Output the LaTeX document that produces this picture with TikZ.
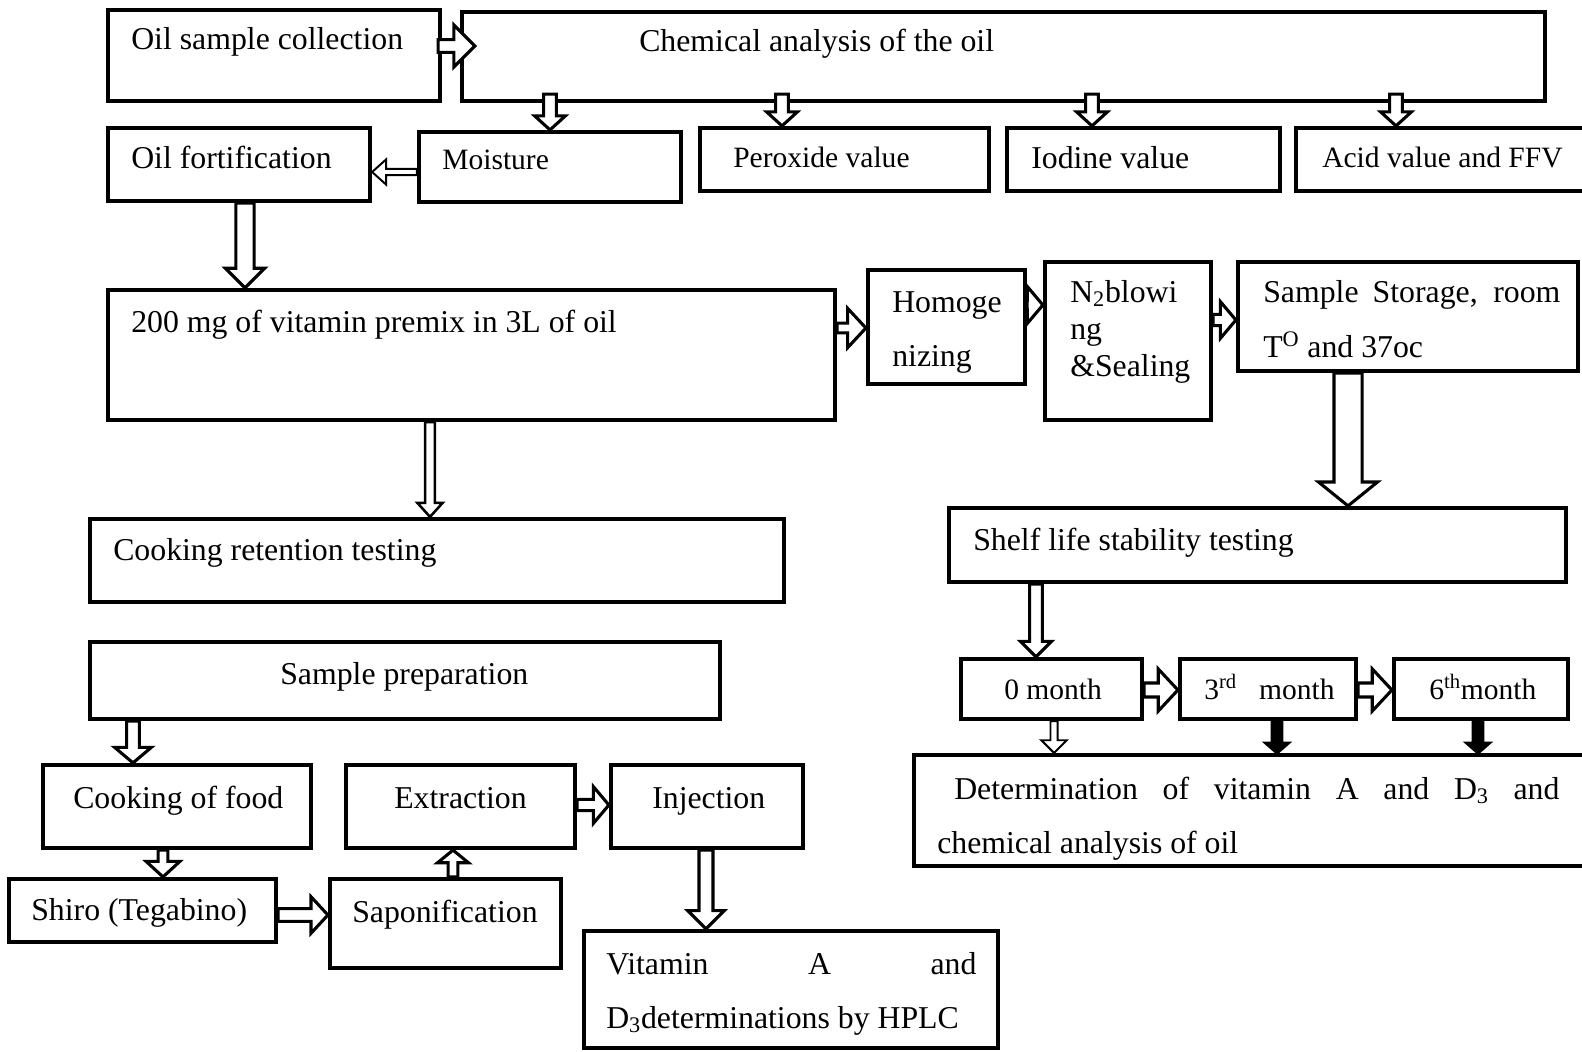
\documentclass[tikz,border=0pt]{standalone}
\usepackage{fontspec}
\setmainfont{Liberation Serif}
\usetikzlibrary{calc,fit}

\tikzset{
  box/.style={draw, line width=3pt, inner sep=0pt},
  txt/.style={anchor=base west, inner sep=0pt, font=\fontsize{22.6}{27}\selectfont},
  smalltxt/.style={txt, font=\fontsize{21}{25}\selectfont},
  arrowline/.style={draw, line width=2.2pt, fill=white, line join=miter},
  thinarrow/.style={line width=1.4pt},
  solidarrow/.style={fill=black}
}

% hollow block arrow: [options]{from}{to}{half shaft}{half head}{head length}
\newcommand{\flowarrow}[6][]{%
  \coordinate (fa-a) at (#2);
  \coordinate (fa-b) at (#3);
  \coordinate (fa-c) at ($(fa-b)!#6!(fa-a)$);
  \draw[arrowline,#1] ($(fa-a)!#4!90:(fa-b)$) -- ($(fa-c)!#4!-90:(fa-a)$)
    -- ($(fa-c)!#5!-90:(fa-a)$) -- (fa-b) -- ($(fa-c)!#5!90:(fa-a)$)
    -- ($(fa-c)!#4!90:(fa-a)$) -- ($(fa-a)!#4!-90:(fa-b)$) -- cycle;
}

\begin{document}
\begin{tikzpicture}[x=0.025cm, y=-0.025cm]
\useasboundingbox (0,0) rectangle (1582,1051);
\clip (0,0) rectangle (1582,1051);

% boxes
\node[box, fit={(108,10) (440,101)}] (oil) {};
\node[box, fit={(462,12) (1545,101)}] (chem) {};
\node[box, fit={(108,128) (370,201)}] (fort) {};
\node[box, fit={(419,132) (681,202)}] (moist) {};
\node[box, fit={(700,128) (989,191)}] (perox) {};
\node[box, fit={(1007,128) (1280,191)}] (iodine) {};
\node[box, fit={(1296,128) (1600,191)}] (acid) {};
\node[box, fit={(108,290) (835,420)}] (premix) {};
\node[box, fit={(868,270) (1025,384)}] (homog) {};
\node[box, fit={(1045,262) (1211,420)}] (seal) {};
\node[box, fit={(1238,262) (1578,371)}] (storage) {};
\node[box, fit={(90,519) (784,602)}] (cookret) {};
\node[box, fit={(949,508) (1566,582)}] (shelf) {};
\node[box, fit={(90,642) (720,719)}] (prep) {};
\node[box, fit={(961,659) (1142,719)}] (m0) {};
\node[box, fit={(1180,659) (1356,719)}] (m3) {};
\node[box, fit={(1394,659) (1568,719)}] (m6) {};
\node[box, fit={(914,755) (1600,866)}] (determ) {};
\node[box, fit={(43,765) (311,848)}] (cookfood) {};
\node[box, fit={(346,765) (575,848)}] (extract) {};
\node[box, fit={(611,765) (803,848)}] (inject) {};
\node[box, fit={(9,879) (276,942)}] (shiro) {};
\node[box, fit={(330,879) (561,968)}] (sapon) {};
\node[box, fit={(584,931) (998,1048)}] (hplc) {};

% texts
\node[txt] (t-oil) at (131,50) {Oil sample collection};
\node[txt] (t-chem) at (639,52) {Chemical analysis of the oil};
\node[txt] (t-fort) at (131,169) {Oil fortification};
\node[smalltxt] (t-moist) at (442,170) {Moisture};
\node[smalltxt] (t-perox) at (733,167) {Peroxide value};
\node[txt] (t-iodine) at (1031,169) {Iodine value};
\node[smalltxt] (t-acid) at (1322,168) {Acid value and FFV};
\node[txt] (t-premix) at (131,332) {200 mg of vitamin premix in 3L of oil};
\node[txt] (t-homog1) at (892,312) {Homoge};
\node[txt] (t-homog2) at (892,366) {nizing};
\node[txt] (t-seal1) at (1070,302) {N\textsubscript{2}blowi};
\node[txt] (t-seal2) at (1070,339) {ng};
\node[txt] (t-seal3) at (1070,376) {\&Sealing};
\node[txt] (t-stor1) at (1263,302) {\makebox[7.425cm][s]{Sample Storage, room}};
\node[txt] (t-stor2) at (1263,357) {T\textsuperscript{O} and 37oc};
\node[txt] (t-cookret) at (113,560) {Cooking retention testing};
\node[txt] (t-shelf) at (973,550) {Shelf life stability testing};
\node[txt] (t-prep) at (280,684) {Sample preparation};
\node[smalltxt] (t-m0) at (1004,699) {0 month};
\node[smalltxt] (t-m3) at (1204,699) {3\textsuperscript{rd}\hspace{0.75em}month};
\node[smalltxt] (t-m6) at (1429,699) {6\textsuperscript{th}month};
\node[txt] (t-det1) at (954,799) {\makebox[15.125cm][s]{Determination of vitamin A and D\textsubscript{3} and}};
\node[txt] (t-det2) at (937,853) {chemical analysis of oil};
\node[txt] (t-cookfood) at (73,808) {Cooking of food};
\node[txt] (t-extract) at (394,808) {Extraction};
\node[txt] (t-inject) at (652,808) {Injection};
\node[txt] (t-shiro) at (31,920) {Shiro (Tegabino)};
\node[txt] (t-sapon) at (352,922) {Saponification};
\node[txt] (t-hplc1) at (606,974) {\makebox[9.25cm][s]{Vitamin A and}};
\node[txt] (t-hplc2) at (606,1028) {D\textsubscript{3}determinations by HPLC};

% arrows
\flowarrow{$(oil.east |- 0,46)+(-4,0)$}{$(chem.west |- 0,46)+(15,0)$}{4.5pt}{15pt}{15pt}
\flowarrow{$(moist.north |- chem.south)+(0,-9)$}{moist.north}{4.5pt}{11pt}{10pt}
\flowarrow{$(chem.south -| 782,0)+(0,-9)$}{perox.north -| 782,0}{4.5pt}{11pt}{10pt}
\flowarrow{$(chem.south -| 1092,0)+(0,-9)$}{iodine.north -| 1092,0}{4.5pt}{11pt}{10pt}
\flowarrow{$(chem.south -| 1396,0)+(0,-9)$}{acid.north -| 1396,0}{4.5pt}{11pt}{10pt}
\flowarrow[thinarrow]{moist.west |- 0,172}{fort.east |- 0,172}{2.3pt}{9pt}{10pt}
\flowarrow{fort.south -| 245,0}{premix.north -| 245,0}{6.5pt}{14pt}{14pt}
\flowarrow{premix.east |- 0,328}{homog.west |- 0,328}{3.5pt}{14pt}{13pt}
\flowarrow{homog.east |- 0,305}{seal.west |- 0,305}{3.5pt}{13pt}{11pt}
\flowarrow{seal.east |- 0,320}{storage.west |- 0,320}{4pt}{13pt}{11pt}
\flowarrow{storage.south -| 1348,0}{shelf.north -| 1348,0}{10pt}{21pt}{17pt}
\flowarrow[line width=1.8pt]{premix.south -| 430,0}{cookret.north -| 430,0}{3.5pt}{9pt}{10pt}
\flowarrow{shelf.south -| 1036,0}{m0.north -| 1036,0}{4.5pt}{11pt}{11pt}
\flowarrow{m0.east |- 0,690}{m3.west |- 0,690}{5pt}{15pt}{14pt}
\flowarrow{m3.east |- 0,690}{m6.west |- 0,690}{5pt}{15pt}{14pt}
\flowarrow[thinarrow]{m0.south -| 1054,0}{determ.north -| 1054,0}{2.5pt}{9pt}{9pt}
\flowarrow[solidarrow]{m3.south -| 1277,0}{determ.north -| 1277,0}{3.5pt}{8pt}{7pt}
\flowarrow[solidarrow]{m6.south -| 1478,0}{determ.north -| 1478,0}{3.5pt}{8pt}{7pt}
\flowarrow{prep.south -| 133,0}{cookfood.north -| 133,0}{4.5pt}{13pt}{11pt}
\flowarrow{cookfood.south -| 163,0}{shiro.north -| 163,0}{3.5pt}{12pt}{11pt}
\flowarrow{shiro.east |- 0,915}{sapon.west |- 0,915}{4.5pt}{13pt}{12pt}
\flowarrow{sapon.north -| 453,0}{extract.south -| 453,0}{3.5pt}{11pt}{9pt}
\flowarrow{extract.east |- 0,805}{inject.west |- 0,805}{4pt}{13pt}{11pt}
\flowarrow{inject.south -| 706,0}{hplc.north -| 706,0}{5pt}{13pt}{13pt}
\end{tikzpicture}
\end{document}
